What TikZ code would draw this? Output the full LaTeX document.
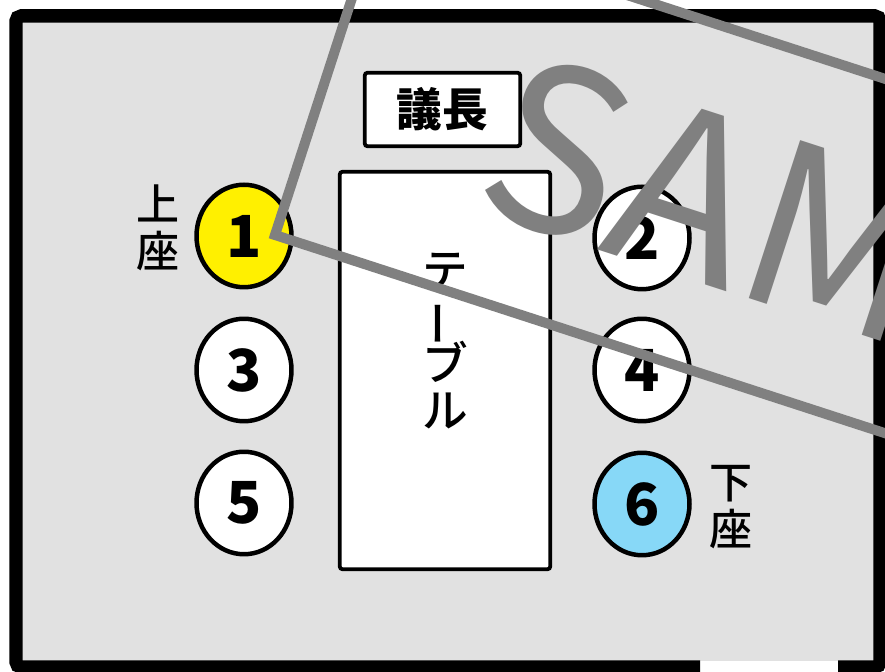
\documentclass[tikz,border=0pt]{standalone}
\usepackage{fontspec}
\setmainfont{Noto Sans CJK JP}
\newfontfamily\medfont{Noto Sans CJK JP Medium}
\usetikzlibrary{shapes.geometric}
\definecolor{roomgray}{RGB}{225,225,225}
\definecolor{markgray}{RGB}{128,128,128}
\definecolor{seatyellow}{RGB}{255,240,0}
\definecolor{seatblue}{RGB}{135,216,247}

\begin{document}
\begin{tikzpicture}[x=0.02cm,y=0.02cm,
        seat/.style={ellipse,draw,line width=0.09cm,fill=white,minimum width=1.9cm,minimum height=2.05cm,inner sep=0pt,font=\fontsize{33}{33}\selectfont\bfseries},
        seatlabel/.style={align=center,inner sep=0pt,font=\fontsize{24.5}{26.7}\selectfont\medfont},
        furniture/.style={draw,fill=white,line width=0.075cm,rounded corners=1.5pt,inner sep=0pt}]
                \useasboundingbox (0,0) rectangle (885,672);
                \clip (0,0) rectangle (885,672);
                % Draw the room
                \fill[roomgray] (16,11) rectangle (880,656);
                \draw[line width=0.27cm,rounded corners=3pt] (700,5) -- (16,5) -- (16,656) -- (880,656) -- (880,5) -- (838,5);
                % Draw the chair and the table
                \node[furniture,minimum width=3.11cm,minimum height=1.47cm,font=\fontsize{26}{26}\selectfont\bfseries] (chair) at (442.5,562.5) {議長};
                \node[furniture,minimum width=4.21cm,minimum height=7.95cm] (table) at (445,301.5) {};
                \node[align=center,inner sep=0pt,font=\fontsize{26}{26.5}\selectfont\medfont] (tablename) at (445,331) {テ\\\smash{\rotatebox[origin=c]{90}{ー}}\\ブ\\ル};
                % Draw the seats
                \node[seat,fill=seatyellow] (s1) at (244,436) {1};
                \node[seat] (s2) at (642,434) {2};
                \node[seat] (s3) at (244,302) {3};
                \node[seat] (s4) at (642,302) {4};
                \node[seat] (s5) at (244,169) {5};
                \node[seat,fill=seatblue] (s6) at (642,168) {6};
                \node[seatlabel] (upper) at (158,444) {上\\座};
                \node[seatlabel] (lower) at (731,165) {下\\座};
                % Draw the watermark
                \begin{scope}[shift={(275,437)},rotate=-18]
                        \draw[markgray,line width=0.2cm] (0,0) rectangle (1000,337);
                        \node[markgray,anchor=base west,transform shape,inner sep=0pt,font=\fontsize{129}{129}\selectfont] (mark) at (175,86) {SAMPLE};
                \end{scope}
\end{tikzpicture}
\end{document}
